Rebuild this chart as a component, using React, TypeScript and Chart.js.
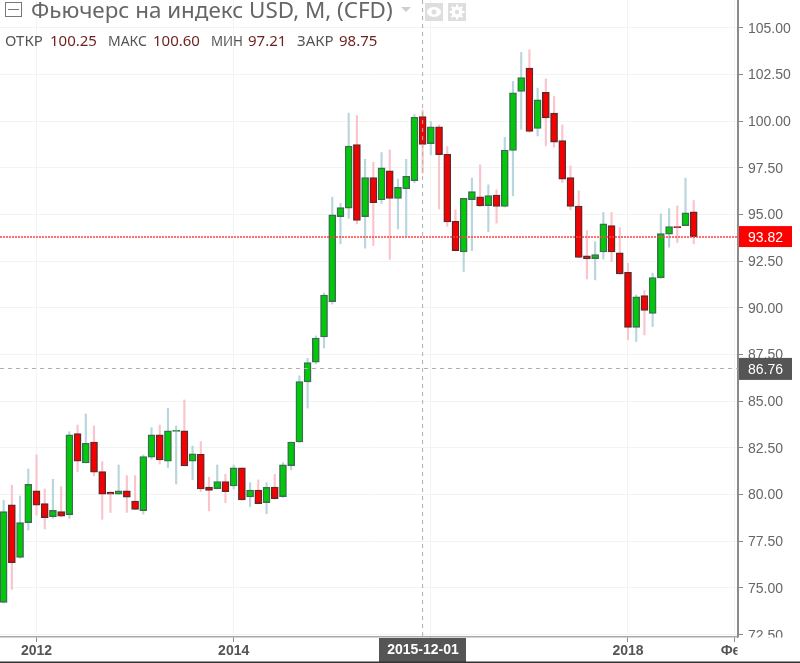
import React, { useEffect, useRef } from "react";
import { Chart, registerables } from "chart.js";

Chart.register(...registerables);

// Monthly candles, starting at 2011-09
const opens = [74.23,79.45,76.64,78.5,80.2,79.52,78.82,79.09,78.93,83.27,81.7,82.82,81.23,80.13,80.02,80.2,79.66,79.14,82.0,83.2,81.79,83.38,83.41,81.79,82.16,80.41,80.32,80.7,80.46,81.43,79.88,80.25,79.57,80.41,79.89,81.55,82.82,86.04,87.1,88.44,90.34,94.89,95.34,98.75,94.89,96.98,95.79,97.34,95.86,96.38,96.82,100.25,98.8,99.7,98.23,94.64,93.0,95.8,95.95,95.48,96.04,95.43,98.43,101.59,102.84,99.61,101.54,100.43,98.96,96.98,95.45,92.79,92.64,93.0,94.41,92.95,91.91,88.96,90.66,89.7,91.61,93.95,94.36,94.41,95.14];
const highs = [79.7,80.5,79.93,81.38,82.13,80.3,80.82,80.43,83.37,83.73,84.32,83.68,81.77,80.15,81.59,81.02,81.02,82.13,83.59,83.73,84.63,83.68,85.07,82.6,82.84,80.93,81.59,81.09,81.59,81.43,80.64,80.79,80.64,81.09,81.71,82.82,86.36,87.3,88.5,90.8,95.93,95.6,100.43,100.3,97.96,97.8,98.32,98.46,96.9,97.96,100.36,100.6,99.98,99.8,98.64,95.25,95.87,96.95,97.66,96.59,96.32,99.13,102.13,103.68,103.82,101.77,102.27,101.32,99.8,97.61,96.27,94.14,93.55,95.11,95.11,94.3,92.39,90.7,90.93,91.86,95.04,95.32,95.46,96.95,95.75];
const lows = [74.2,74.93,76.6,78.1,78.9,78.16,78.73,78.8,78.73,81.23,81.7,81.0,78.68,79.04,80.0,79.05,79.2,78.96,81.9,81.64,81.45,80.57,81.54,80.79,80.16,79.13,80.3,79.57,80.3,79.71,79.36,79.5,78.98,79.75,79.85,81.32,82.8,84.63,87.0,87.85,90.2,93.43,94.8,94.5,93.2,93.34,95.6,92.6,94.23,93.82,96.7,97.21,98.2,95.3,94.36,93.05,91.95,93.07,95.43,94.09,94.54,95.4,96.0,99.57,99.4,99.21,98.68,98.61,96.71,95.25,92.68,91.55,91.5,92.61,92.48,91.8,88.29,88.2,88.55,89.0,91.6,93.25,93.5,94.4,93.43];
const closes = [79.09,76.36,78.5,80.55,79.43,78.77,79.16,78.84,83.2,81.79,82.75,81.2,80.02,80.02,80.2,79.87,79.21,82.04,83.2,81.86,83.41,83.45,81.54,82.18,80.3,80.23,80.7,80.16,81.43,79.71,80.25,79.52,80.39,79.79,81.59,82.82,86.05,87.07,88.39,90.69,94.98,95.37,98.66,94.68,96.98,95.64,97.5,95.86,96.46,97.05,100.21,98.75,99.7,98.21,94.6,93.07,95.87,96.23,95.46,96.02,95.43,98.45,101.52,102.34,99.45,101.14,100.18,98.88,96.89,95.43,92.7,92.63,92.86,94.5,93.0,91.82,88.96,90.59,89.86,91.63,93.98,94.36,94.3,95.09,93.82];

const xTickValues = [4, 28, 52, 76, 89];
const xTickLabels = ["2012", "2014", "", "2018", "Фев"];
const yTickValues = [72.5, 75, 77.5, 80, 82.5, 85, 87.5, 90, 92.5, 95, 97.5, 100, 102.5, 105];

const titleText = "Фьючерс на индекс USD, M, (CFD)";
const ohlcLabels = ["ОТКР", "МАКС", "МИН", "ЗАКР"];
const ohlcValues = ["100.25", "100.60", "97.21", "98.75"];
const lastPrice = 93.82;
const crossPrice = 86.76;
const crossIndex = 51;
const crossLabel = "2015-12-01";

const FONT = '"Liberation Sans", Arial, sans-serif';
const HEADER_FONT = '"Noto Sans", sans-serif';

const overlay = {
  id: "overlay",
  afterDraw(chart: any) {
    const { ctx, chartArea: a, scales } = chart;
    const py = (v: number) => scales.y.getPixelForValue(v);
    const px = scales.x.getPixelForValue(crossIndex);
    ctx.save();

    // clip region under the price axis
    ctx.fillStyle = "#fff";
    ctx.fillRect(a.right - 0.5, a.bottom + 0.5, 70, 30);

    // crosshair lines
    ctx.strokeStyle = "#b0b0b0";
    ctx.lineWidth = 1;
    ctx.setLineDash([4, 4]);
    ctx.beginPath();
    ctx.moveTo(px, a.top);
    ctx.lineTo(px, a.bottom);
    ctx.moveTo(a.left, Math.round(py(crossPrice)) + 0.5);
    ctx.lineTo(a.right, Math.round(py(crossPrice)) + 0.5);
    ctx.stroke();

    // last price line
    ctx.strokeStyle = "#ff4040";
    ctx.lineWidth = 1.6;
    ctx.setLineDash([2, 1]);
    ctx.beginPath();
    ctx.moveTo(a.left, Math.round(py(lastPrice)));
    ctx.lineTo(a.right, Math.round(py(lastPrice)));
    ctx.stroke();
    ctx.setLineDash([]);

    // price labels
    ctx.font = `14px ${FONT}`;
    ctx.textBaseline = "middle";
    ctx.textAlign = "left";
    const lastY = py(lastPrice);
    ctx.fillStyle = "#ff0000";
    ctx.fillRect(739, lastY - 10.5, 53, 21);
    ctx.fillStyle = "#ffffff";
    ctx.fillText(lastPrice.toFixed(2), 748, lastY + 1.5);
    const crossY = py(crossPrice);
    ctx.fillStyle = "#555555";
    ctx.fillRect(739, crossY - 10.5, 53, 22);
    ctx.fillStyle = "#ffffff";
    ctx.fillText(crossPrice.toFixed(2), 748, crossY + 1.5);

    // crosshair time label
    ctx.fillStyle = "#555555";
    ctx.fillRect(379, a.bottom + 1, 87, 24);
    ctx.fillStyle = "#ffffff";
    ctx.font = `bold 14px ${FONT}`;
    ctx.textAlign = "center";
    ctx.fillText(crossLabel, 423, 650);

    // bottom edge of the picture
    ctx.fillStyle = "#333333";
    ctx.fillRect(0, 661.5, 800, 1.5);

    // header icons
    ctx.strokeStyle = "#777";
    ctx.lineWidth = 1;
    ctx.strokeRect(5.5, 2.5, 16, 14);
    ctx.beginPath();
    ctx.moveTo(8, 9.5);
    ctx.lineTo(19, 9.5);
    ctx.stroke();
    ctx.fillStyle = "#cfcfcf";
    ctx.beginPath();
    ctx.moveTo(401, 7);
    ctx.lineTo(411, 7);
    ctx.lineTo(406, 12);
    ctx.closePath();
    ctx.fill();
    ctx.fillStyle = "#dedede";
    ctx.fillRect(425, 3, 18, 18);
    ctx.fillRect(448, 3, 18, 18);
    ctx.fillStyle = "#ffffff";
    ctx.beginPath();
    ctx.ellipse(434, 12, 7, 5, 0, 0, Math.PI * 2);
    ctx.fill();
    ctx.fillStyle = "#dedede";
    ctx.beginPath();
    ctx.arc(434, 12, 2.5, 0, Math.PI * 2);
    ctx.fill();
    ctx.fillStyle = "#ffffff";
    ctx.beginPath();
    ctx.arc(457, 12, 5.5, 0, Math.PI * 2);
    ctx.fill();
    ctx.strokeStyle = "#ffffff";
    ctx.lineWidth = 2;
    for (let k = 0; k < 8; k++) {
      const t = (k * Math.PI) / 4;
      ctx.beginPath();
      ctx.moveTo(457 + Math.cos(t) * 5, 12 + Math.sin(t) * 5);
      ctx.lineTo(457 + Math.cos(t) * 7.5, 12 + Math.sin(t) * 7.5);
      ctx.stroke();
    }
    ctx.fillStyle = "#dedede";
    ctx.beginPath();
    ctx.arc(457, 12, 2.2, 0, Math.PI * 2);
    ctx.fill();

    // header text
    ctx.textAlign = "left";
    ctx.textBaseline = "alphabetic";
    ctx.fillStyle = "#666666";
    ctx.font = `22.4px ${HEADER_FONT}`;
    ctx.fillText(titleText, 31, 18);

    const labelX = [5, 108, 211, 297];
    const labelW = [39, 39, 32, 37];
    const valueX = [50, 153, 248, 339];
    ctx.font = `15px ${HEADER_FONT}`;
    ohlcLabels.forEach((t, i) => {
      ctx.fillStyle = "#555555";
      ctx.fillText(t, labelX[i], 46, labelW[i]);
      ctx.fillStyle = "#6e1f1f";
      ctx.fillText(ohlcValues[i], valueX[i], 46);
    });
    ctx.restore();
  },
};

export default function App() {
  const ref = useRef<HTMLCanvasElement>(null);
  useEffect(() => {
    const up = (i: number) => closes[i] >= opens[i];
    const chart = new Chart(ref.current as HTMLCanvasElement, {
      type: "bar",
      data: {
        datasets: [
          {
            label: "wick",
            data: lows.map((l, i) => ({ x: i, y: [l, highs[i]] })) as any,
            backgroundColor: opens.map((_, i) => (up(i) ? "#b8d6de" : "#f9c4cc")),
            barThickness: 1.5,
            grouped: false,
            order: 2,
          } as any,
          {
            label: "body",
            data: opens.map((o, i) => ({ x: i, y: [o, closes[i]] })) as any,
            backgroundColor: opens.map((_, i) => (up(i) ? "#00c80a" : "#f40000")),
            borderColor: opens.map((_, i) => (up(i) ? "#3f6b50" : "#5c2a2a")),
            borderWidth: 1.4,
            borderSkipped: false,
            barThickness: 7,
            grouped: false,
            order: 1,
          } as any,
        ],
      },
      options: {
        animation: false,
        responsive: false,
        devicePixelRatio: 1,
        layout: { padding: 0, autoPadding: false },
        plugins: { legend: { display: false }, tooltip: { enabled: false } },
        scales: {
          x: {
            type: "linear",
            offset: false,
            min: -0.443,
            max: 89.39,
            afterBuildTicks: (s: any) => {
              s.ticks = xTickValues.map((value) => ({ value }));
            },
            afterFit: (s: any) => {
              s.height = 26;
              s.paddingLeft = 0;
              s.paddingRight = 0;
            },
            grid: { offset: false, color: "#f3f3f3", tickColor: "#888", tickLength: 5 },
            border: { color: "#a8a8a8", width: 1.5 },
            ticks: {
              autoSkip: false,
              maxRotation: 0,
              padding: 1,
              color: "#555",
              font: { family: FONT, size: 14, weight: "bold" },
              callback: (v: any) => {
                const k = xTickValues.indexOf(Number(v));
                return k >= 0 ? xTickLabels[k] : "";
              },
            },
          },
          y: {
            position: "right",
            min: 72.375,
            max: 106.49,
            afterBuildTicks: (s: any) => {
              s.ticks = yTickValues.map((value) => ({ value }));
            },
            afterFit: (s: any) => {
              s.width = 62;
              s.paddingTop = 0;
              s.paddingBottom = 0;
            },
            grid: { color: "#f3f3f3", tickColor: "#888", tickLength: 5 },
            border: { color: "#8a8a8a", width: 2 },
            ticks: {
              autoSkip: false,
              padding: 5,
              labelOffset: 1,
              color: "#666",
              font: { family: FONT, size: 14 },
              callback: (v: any) => Number(v).toFixed(2),
            },
          },
        },
      } as any,
      plugins: [overlay],
    });
    return () => chart.destroy();
  }, []);
  return (
    <div style={{ position: "fixed", left: 0, top: 0, width: 800, height: 663, background: "#fff" }}>
      <canvas ref={ref} width={800} height={663} style={{ display: "block", filter: "blur(0.35px)" }} />
    </div>
  );
}
